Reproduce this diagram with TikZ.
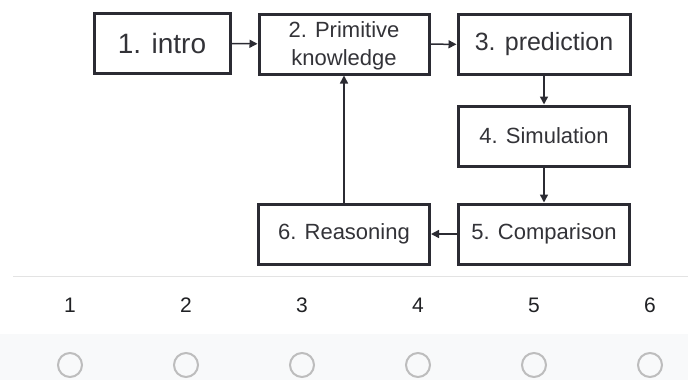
\documentclass[tikz,border=0pt]{standalone}
\usepackage{fontspec}
\setmainfont{Liberation Sans}
\usetikzlibrary{arrows.meta}
\definecolor{rand}{HTML}{2B2B33}
\definecolor{tekst}{HTML}{333338}
\definecolor{band}{HTML}{F8F9FA}
\definecolor{scheiding}{HTML}{E3E3E3}
\definecolor{cirkel}{HTML}{BDBDBD}
\definecolor{cijfer}{HTML}{202124}
\begin{document}
\begin{tikzpicture}[x=1pt, y=-1pt, >={Triangle[length=8pt,width=8pt]},
    stap/.style={draw=rand, line width=3pt, fill=white, text=tekst,
      align=center, inner sep=0pt, minimum height=60pt,
      font=\fontsize{22}{25}\selectfont},
    pijl/.style={->, draw=rand, line width=1.5pt},
    keuze/.style={circle, draw=cirkel, line width=2pt, minimum size=24pt, inner sep=0pt}]

  \useasboundingbox (0,0) rectangle (688,380);

  % Achtergrond van de keuzerij
  \fill[band] (0,334) rectangle (688,380);

  % Stappen van de cyclus
  \node[stap, minimum width=136pt, font=\fontsize{28}{30}\selectfont] (s1) at (162,43.5) {1. intro};
  \node[stap, minimum width=170pt, font=\fontsize{22}{28}\selectfont] (s2) at (344,44) {\rule{0pt}{19pt}2. Primitive\\knowledge};
  \node[stap, minimum width=172pt, font=\fontsize{25}{28}\selectfont] (s3) at (544,44.5) {3. prediction};
  \node[stap, minimum width=171pt] (s4) at (544,136) {4. Simulation};
  \node[stap, minimum width=171pt] (s5) at (544,234) {5. Comparison};
  \node[stap, minimum width=171pt] (s6) at (344,234) {6. Reasoning};

  % Pijlen tussen de stappen
  \draw[pijl] (s1) -- (s2);
  \draw[pijl] (s2) -- (s3);
  \draw[pijl] (s3) -- (s4);
  \draw[pijl] (s4) -- (s5);
  \draw[pijl] (s5) -- (s6);
  \draw[pijl] (s6) -- (s2);

  % Scheidingslijn
  \coordinate (l1) at (13,276);
  \coordinate (l2) at (688,276);
  \draw[scheiding, line width=1pt] (l1) -- (l2);

  % Schaal 1 tot 6 met keuzerondjes
  \foreach \i in {1,...,6} {
    \node[text=cijfer, font=\fontsize{21}{22}\selectfont] (n\i) at ({70+116*(\i-1)},305) {\i};
    \node[keuze] (k\i) at ({70+116*(\i-1)},365) {};
  }

\end{tikzpicture}
\end{document}
